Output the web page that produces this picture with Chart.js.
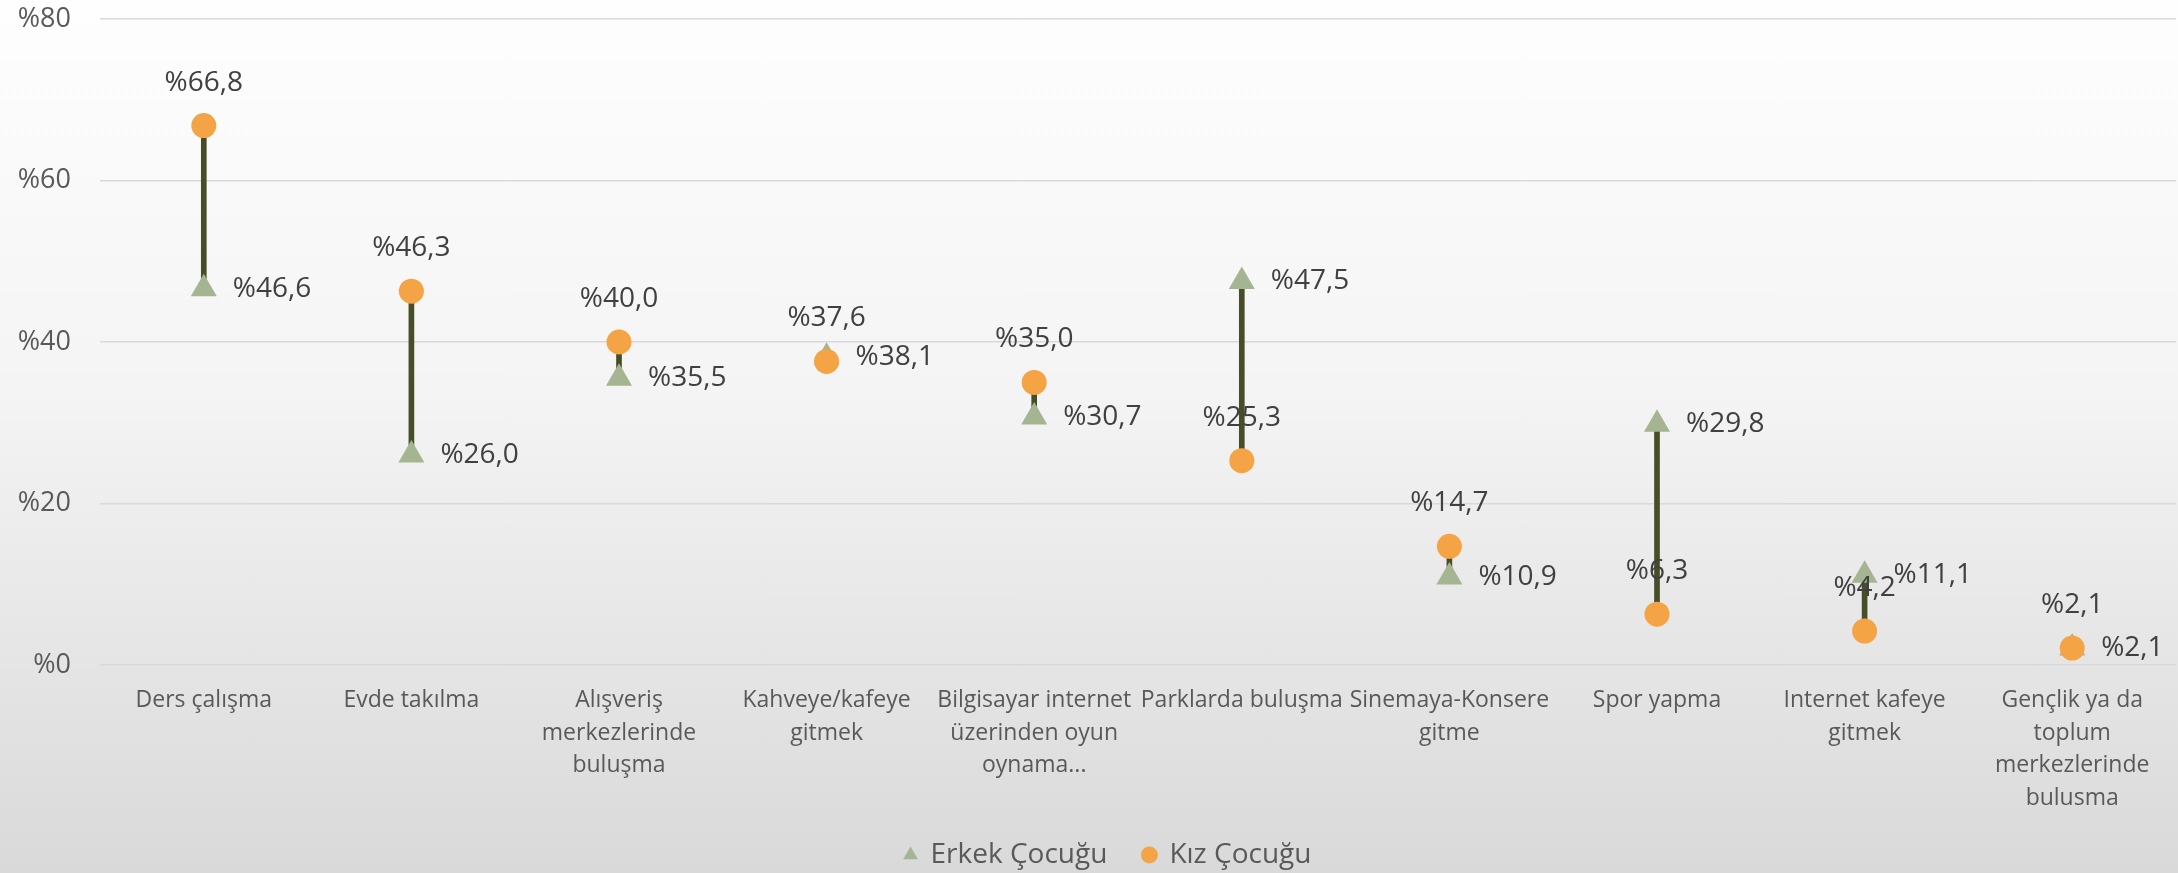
<!DOCTYPE html>
<html>
<head>
<meta charset="utf-8">
<script src="https://cdn.jsdelivr.net/npm/chart.js@4.4.0/dist/chart.umd.min.js"></script>
<style>
  html, body { margin: 0; padding: 0; }
  body { width: 2178px; height: 873px; background: linear-gradient(to bottom, #fefefe 0%, #f4f4f4 45%, #d9d9d9 100%); overflow: hidden; }
</style>
</head>
<body>
<canvas id="chart" width="2178" height="879"></canvas>
<script>
// kategoriler (çok satırlı etiketler)
const categories = [
    ['Ders çalışma'],
    ['Evde takılma'],
    ['Alışveriş', 'merkezlerinde', 'buluşma'],
    ['Kahveye/kafeye', 'gitmek'],
    ['Bilgisayar internet', 'üzerinden oyun', 'oynama...'],
    ['Parklarda buluşma'],
    ['Sinemaya-Konsere', 'gitme'],
    ['Spor yapma'],
    ['Internet kafeye', 'gitmek'],
    ['Gençlik ya da', 'toplum', 'merkezlerinde', 'buluşma']
];
const erkek = [46.6, 26.0, 35.5, 38.1, 30.7, 47.5, 10.9, 29.8, 11.1, 2.1];
const kiz = [66.8, 46.3, 40.0, 37.6, 35.0, 25.3, 14.7, 6.3, 4.2, 2.1];
const yTicks = [0, 20, 40, 60, 80];

const fmt = v => '%' + v.toFixed(1).replace('.', ',');

// aradaki dikey çizgi için min-max aralığı
const ranges = erkek.map((e, i) => [Math.min(e, kiz[i]), Math.max(e, kiz[i])]);

const valueLabels = {
    id: 'valueLabels',
    afterLayout(chart) {
        // lejantı biraz sağa kaydır
        chart.legend.left += 20;
        chart.legend.right += 20;
    },
    afterDatasetsDraw(chart) {
        const ctx = chart.ctx;
        ctx.save();
        ctx.font = "28px 'Open Sans'";
        ctx.fillStyle = '#404040';
        ctx.textBaseline = 'middle';
        chart.getDatasetMeta(1).data.forEach((pt, i) => {
            ctx.textAlign = 'left';
            ctx.fillText(fmt(erkek[i]), pt.x + 29, pt.y);
        });
        chart.getDatasetMeta(2).data.forEach((pt, i) => {
            ctx.textAlign = 'center';
            ctx.fillText(fmt(kiz[i]), pt.x, pt.y - 43);
        });
        ctx.restore();
    }
};

new Chart(document.getElementById('chart'), {
    type: 'bar',
    data: {
        labels: categories,
        datasets: [{
            label: 'fark',
            data: ranges,
            backgroundColor: '#474d26',
            barThickness: 5,
            order: 3
        }, {
            type: 'line',
            label: 'Erkek Çocuğu',
            data: erkek,
            showLine: false,
            pointStyle: 'triangle',
            pointRadius: 15,
            pointBackgroundColor: '#a5b592',
            pointBorderWidth: 0,
            backgroundColor: '#a5b592',
            borderColor: '#a5b592',
            order: 2
        }, {
            type: 'line',
            label: 'Kız Çocuğu',
            data: kiz,
            showLine: false,
            pointStyle: 'circle',
            pointRadius: 12.5,
            pointBackgroundColor: '#f4a445',
            pointBorderWidth: 0,
            backgroundColor: '#f4a445',
            borderColor: '#f4a445',
            order: 1
        }]
    },
    options: {
        responsive: false,
        animation: false,
        layout: { autoPadding: false, padding: { top: 19, right: 2, left: 0, bottom: 0 } },
        plugins: {
            tooltip: { enabled: false },
            legend: {
                position: 'bottom',
                labels: {
                    filter: item => item.datasetIndex !== 0,
                    sort: (a, b) => a.datasetIndex - b.datasetIndex,
                    usePointStyle: true,
                    boxWidth: 12,
                    boxHeight: 12,
                    padding: 36,
                    color: '#595959',
                    font: { family: "'Open Sans'", size: 28 }
                }
            }
        },
        scales: {
            x: {
                grid: { display: false, drawTicks: false },
                border: { display: false },
                ticks: {
                    color: '#595959',
                    padding: 19,
                    maxRotation: 0,
                    autoSkip: false,
                    font: { family: "'Open Sans'", size: 23, lineHeight: 1.42 }
                },
                afterFit: s => { s.height = 140; }
            },
            y: {
                min: 0,
                max: 80,
                afterBuildTicks: s => { s.ticks = yTicks.map(v => ({ value: v })); },
                grid: { color: '#d9d9d9', lineWidth: 1.5, drawTicks: false },
                border: { display: false },
                ticks: {
                    color: '#595959',
                    padding: 29,
                    font: { family: "'Open Sans'", size: 27, lineHeight: 1 },
                    callback: v => '%' + v
                },
                afterFit: s => { s.width = 100; s.paddingTop = 0; s.paddingBottom = 0; }
            }
        }
    },
    plugins: [valueLabels]
});
</script>
</body>
</html>
